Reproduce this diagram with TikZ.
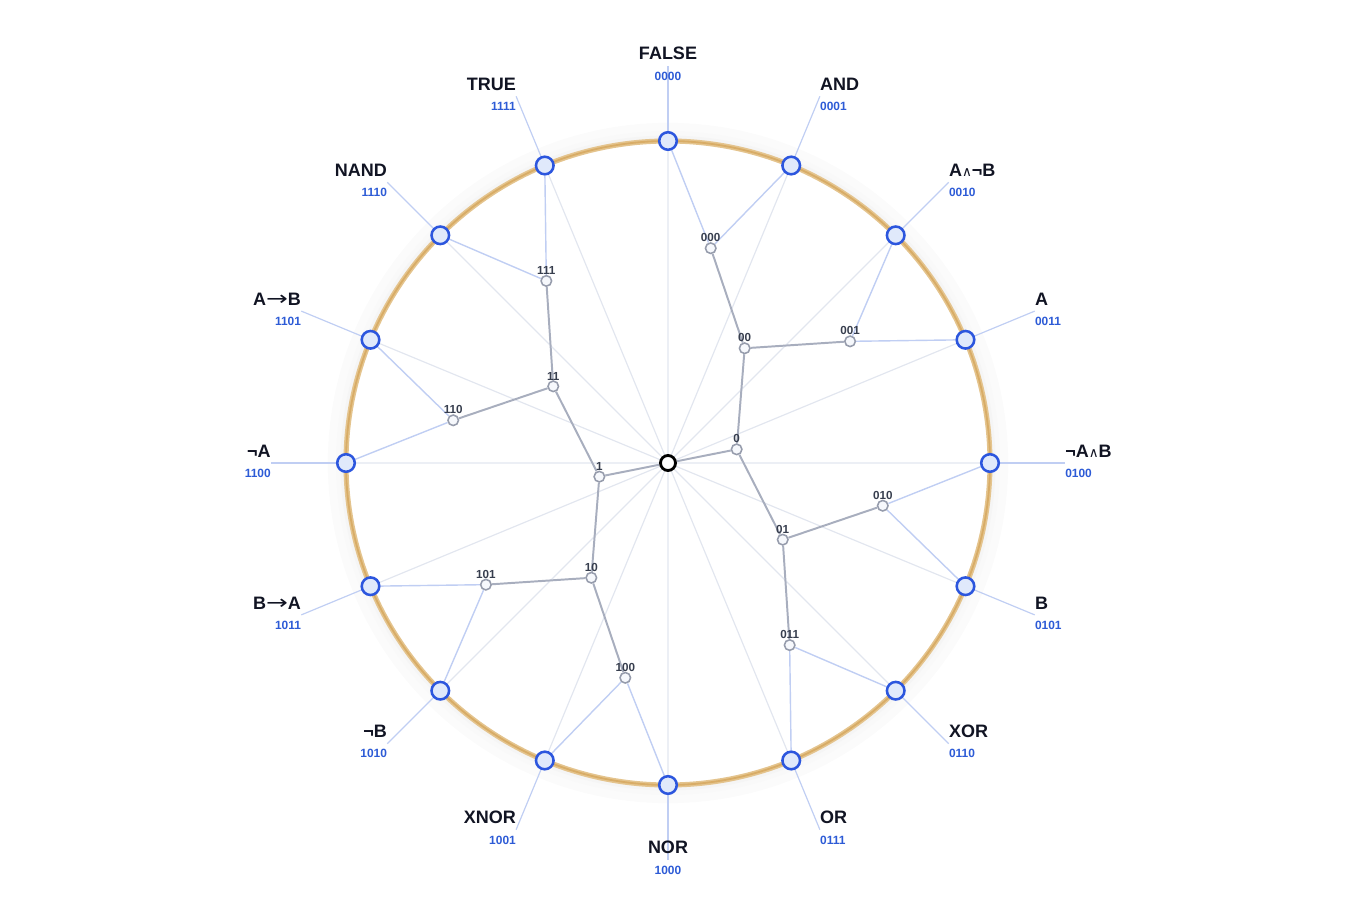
\documentclass[tikz,border=0pt]{standalone}
\usepackage{fontspec}
\setmainfont{Liberation Sans}
\newfontfamily\glyphfont{DejaVu Sans}
\usetikzlibrary{positioning,backgrounds}

\definecolor{ringcol}{RGB}{228,196,142}
\definecolor{ringmid}{RGB}{216,172,102}
\definecolor{spokecol}{RGB}{226,230,239}
\definecolor{branchcol}{RGB}{168,174,190}
\definecolor{twigcol}{RGB}{192,206,243}
\definecolor{leafdraw}{RGB}{44,86,222}
\definecolor{leaffill}{RGB}{224,233,251}
\definecolor{treedraw}{RGB}{150,156,172}
\definecolor{treefill}{RGB}{246,248,252}
\definecolor{namecol}{RGB}{17,20,35}
\definecolor{codecol}{RGB}{45,91,214}
\definecolor{tlabcol}{RGB}{55,62,78}

\newcommand{\andsym}{{\glyphfont\mdseries\fontsize{9.6}{10}\selectfont ∧}}
\newcommand{\impsym}{{\glyphfont\mdseries\scalebox{1.45}[1.1]{→}}}

\tikzset{
  leaf/.style={circle, draw=leafdraw, fill=leaffill, line width=1.8pt, minimum size=12.5pt, inner sep=0pt},
  tnode/.style={circle, draw=treedraw, fill=treefill, line width=1.1pt, minimum size=7.5pt, inner sep=0pt, label distance=2.5pt},
  rootnode/.style={circle, draw=black, fill=white, line width=2pt, minimum size=10.7pt, inner sep=0pt},
  spoke/.style={draw=spokecol, line width=0.85pt},
  branch/.style={draw=branchcol, line width=1.4pt},
  twig/.style={draw=twigcol, line width=1pt},
  leader/.style={draw=twigcol, line width=0.85pt},
  fname/.style={font=\bfseries\fontsize{12.8}{13}\selectfont, text=namecol, inner sep=0pt},
  fcode/.style={font=\bfseries\fontsize{8.5}{9}\selectfont, text=codecol, inner sep=0pt},
  tlab/.style={font=\bfseries\fontsize{8.3}{9}\selectfont, text=tlabcol, inner sep=0pt}
}

\begin{document}
\begin{tikzpicture}[x=0.025cm, y=0.025cm]
\useasboundingbox (-668,-451) rectangle (692,463);

\node[rootnode] (root) at (0,0) {};

\node[tnode, label={[tlab]above:0}] (t0) at (11.25:70) {};
\node[tnode, label={[tlab]above:1}] (t1) at (191.25:70) {};

\node[tnode, label={[tlab]above:00}] (t00) at (56.25:138) {};
\node[tnode, label={[tlab]above:01}] (t01) at (-33.75:138) {};
\node[tnode, label={[tlab]above:10}] (t10) at (-123.75:138) {};
\node[tnode, label={[tlab]above:11}] (t11) at (146.25:138) {};

\node[tnode, label={[tlab]above:000}] (t000) at (78.75:219) {};
\node[tnode, label={[tlab]above:001}] (t001) at (33.75:219) {};
\node[tnode, label={[tlab]above:010}] (t010) at (-11.25:219) {};
\node[tnode, label={[tlab]above:011}] (t011) at (-56.25:219) {};
\node[tnode, label={[tlab]above:100}] (t100) at (-101.25:219) {};
\node[tnode, label={[tlab]above:101}] (t101) at (-146.25:219) {};
\node[tnode, label={[tlab]above:110}] (t110) at (168.75:219) {};
\node[tnode, label={[tlab]above:111}] (t111) at (123.75:219) {};

\node[leaf] (l0000) at (90:322) {};
\node[leaf] (l0001) at (67.5:322) {};
\node[leaf] (l0010) at (45:322) {};
\node[leaf] (l0011) at (22.5:322) {};
\node[leaf] (l0100) at (0:322) {};
\node[leaf] (l0101) at (-22.5:322) {};
\node[leaf] (l0110) at (-45:322) {};
\node[leaf] (l0111) at (-67.5:322) {};
\node[leaf] (l1000) at (-90:322) {};
\node[leaf] (l1001) at (-112.5:322) {};
\node[leaf] (l1010) at (-135:322) {};
\node[leaf] (l1011) at (-157.5:322) {};
\node[leaf] (l1100) at (180:322) {};
\node[leaf] (l1101) at (157.5:322) {};
\node[leaf] (l1110) at (135:322) {};
\node[leaf] (l1111) at (112.5:322) {};

\coordinate (e0000) at (90:397);
\coordinate (e0001) at (67.5:397);
\coordinate (e0010) at (45:397);
\coordinate (e0011) at (22.5:397);
\coordinate (e0100) at (0:397);
\coordinate (e0101) at (-22.5:397);
\coordinate (e0110) at (-45:397);
\coordinate (e0111) at (-67.5:397);
\coordinate (e1000) at (-90:397);
\coordinate (e1001) at (-112.5:397);
\coordinate (e1010) at (-135:397);
\coordinate (e1011) at (-157.5:397);
\coordinate (e1100) at (180:397);
\coordinate (e1101) at (157.5:397);
\coordinate (e1110) at (135:397);
\coordinate (e1111) at (112.5:397);

\node[fname, above=4pt of e0000] (n0000) {FALSE};
\node[fcode, below=4pt of e0000] (c0000) {0000};
\node[fname, above right=4pt and 0pt of e0001] (n0001) {AND};
\node[fcode, below right=4pt and 0pt of e0001] (c0001) {0001};
\node[fname, above right=4pt and 0pt of e0010] (n0010) {A\andsym¬B};
\node[fcode, below right=4pt and 0pt of e0010] (c0010) {0010};
\node[fname, above right=4pt and 0pt of e0011] (n0011) {A};
\node[fcode, below right=4pt and 0pt of e0011] (c0011) {0011};
\node[fname, above right=4pt and 0pt of e0100] (n0100) {¬A\andsym B};
\node[fcode, below right=4pt and 0pt of e0100] (c0100) {0100};
\node[fname, above right=4pt and 0pt of e0101] (n0101) {B};
\node[fcode, below right=4pt and 0pt of e0101] (c0101) {0101};
\node[fname, above right=4pt and 0pt of e0110] (n0110) {XOR};
\node[fcode, below right=4pt and 0pt of e0110] (c0110) {0110};
\node[fname, above right=4pt and 0pt of e0111] (n0111) {OR};
\node[fcode, below right=4pt and 0pt of e0111] (c0111) {0111};
\node[fname, above=4pt of e1000] (n1000) {NOR};
\node[fcode, below=4pt of e1000] (c1000) {1000};
\node[fname, above left=4pt and 0pt of e1001] (n1001) {XNOR};
\node[fcode, below left=4pt and 0pt of e1001] (c1001) {1001};
\node[fname, above left=4pt and 0pt of e1010] (n1010) {¬B};
\node[fcode, below left=4pt and 0pt of e1010] (c1010) {1010};
\node[fname, above left=4pt and 0pt of e1011] (n1011) {B\impsym A};
\node[fcode, below left=4pt and 0pt of e1011] (c1011) {1011};
\node[fname, above left=4pt and 0pt of e1100] (n1100) {¬A};
\node[fcode, below left=4pt and 0pt of e1100] (c1100) {1100};
\node[fname, above left=4pt and 0pt of e1101] (n1101) {A\impsym B};
\node[fcode, below left=4pt and 0pt of e1101] (c1101) {1101};
\node[fname, above left=4pt and 0pt of e1110] (n1110) {NAND};
\node[fcode, below left=4pt and 0pt of e1110] (c1110) {1110};
\node[fname, above left=4pt and 0pt of e1111] (n1111) {TRUE};
\node[fcode, below left=4pt and 0pt of e1111] (c1111) {1111};

\begin{scope}[on background layer]
  \draw[black!1.5, line width=13pt] (root.center) circle (331);
  \draw[black!2.5, line width=7pt] (root.center) circle (327);
  \draw[black!4, line width=3.5pt] (root.center) circle (325);
  \draw[ringcol, line width=3.6pt] (root.center) circle (322);
  \draw[ringmid, line width=1.3pt] (root.center) circle (322);

  \draw[spoke] (root) -- (l0000) (root) -- (l0001) (root) -- (l0010) (root) -- (l0011);
  \draw[spoke] (root) -- (l0100) (root) -- (l0101) (root) -- (l0110) (root) -- (l0111);
  \draw[spoke] (root) -- (l1000) (root) -- (l1001) (root) -- (l1010) (root) -- (l1011);
  \draw[spoke] (root) -- (l1100) (root) -- (l1101) (root) -- (l1110) (root) -- (l1111);

  \draw[leader] (l0000) -- (e0000);
  \draw[leader] (l0001) -- (e0001);
  \draw[leader] (l0010) -- (e0010);
  \draw[leader] (l0011) -- (e0011);
  \draw[leader] (l0100) -- (e0100);
  \draw[leader] (l0101) -- (e0101);
  \draw[leader] (l0110) -- (e0110);
  \draw[leader] (l0111) -- (e0111);
  \draw[leader] (l1000) -- (e1000);
  \draw[leader] (l1001) -- (e1001);
  \draw[leader] (l1010) -- (e1010);
  \draw[leader] (l1011) -- (e1011);
  \draw[leader] (l1100) -- (e1100);
  \draw[leader] (l1101) -- (e1101);
  \draw[leader] (l1110) -- (e1110);
  \draw[leader] (l1111) -- (e1111);

  \draw[twig] (t000) -- (l0000) (t000) -- (l0001);
  \draw[twig] (t001) -- (l0010) (t001) -- (l0011);
  \draw[twig] (t010) -- (l0100) (t010) -- (l0101);
  \draw[twig] (t011) -- (l0110) (t011) -- (l0111);
  \draw[twig] (t100) -- (l1000) (t100) -- (l1001);
  \draw[twig] (t101) -- (l1010) (t101) -- (l1011);
  \draw[twig] (t110) -- (l1100) (t110) -- (l1101);
  \draw[twig] (t111) -- (l1110) (t111) -- (l1111);

  \draw[branch] (root) -- (t0) (root) -- (t1);
  \draw[branch] (t0) -- (t00) (t0) -- (t01);
  \draw[branch] (t1) -- (t10) (t1) -- (t11);
  \draw[branch] (t00) -- (t000) (t00) -- (t001);
  \draw[branch] (t01) -- (t010) (t01) -- (t011);
  \draw[branch] (t10) -- (t100) (t10) -- (t101);
  \draw[branch] (t11) -- (t110) (t11) -- (t111);
\end{scope}
\end{tikzpicture}
\end{document}
